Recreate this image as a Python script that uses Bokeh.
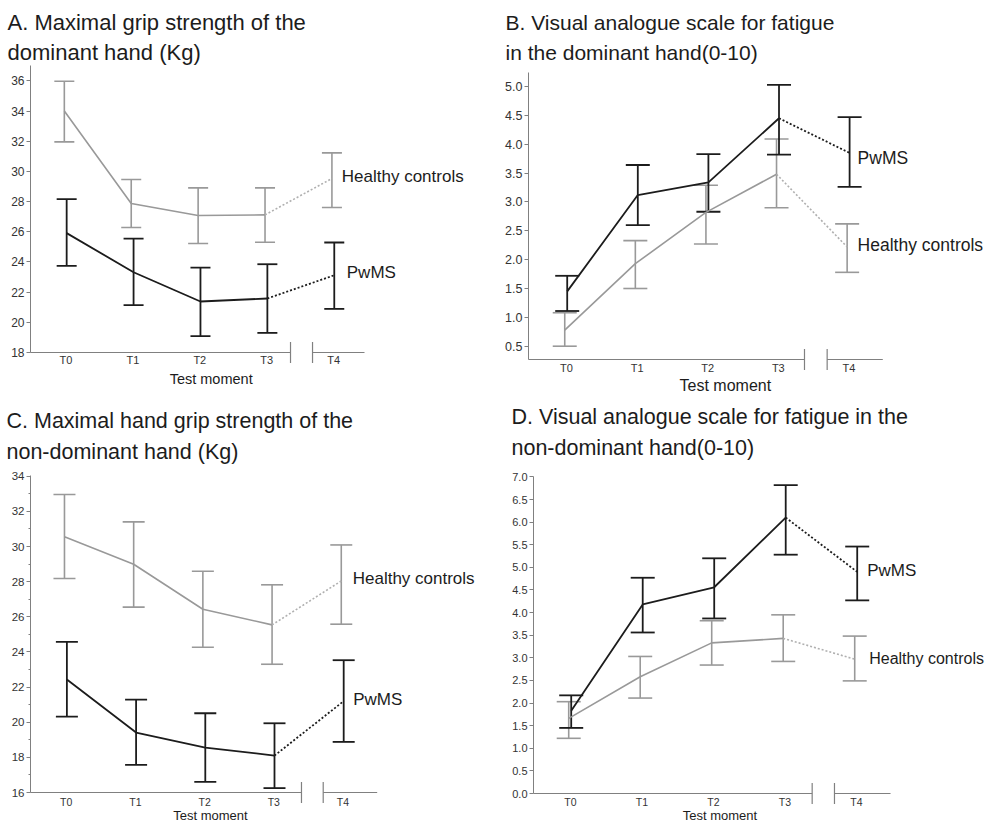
import numpy as np
from bokeh.plotting import figure
from bokeh.models import (Range1d, FixedTicker, Whisker, TeeHead, ColumnDataSource,
                          PrintfTickFormatter)
from bokeh.layouts import column, row
from bokeh.core.properties import value
from bokeh.embed import file_html
from bokeh.resources import INLINE

# ---------------- data ----------------
TIMES = ["T0", "T1", "T2", "T3", "T4"]
SERIES = ["PwMS", "Healthy controls"]
X_LABEL = "Test moment"

TITLE_A = ["A. Maximal grip strength of the", "dominant hand (Kg)"]
TITLE_B = ["B. Visual analogue scale for fatigue", "in the dominant hand(0-10)"]
TITLE_C = ["C. Maximal hand grip strength of the", "non-dominant hand (Kg)"]
TITLE_D = ["D. Visual analogue scale for fatigue in the", "non-dominant hand(0-10)"]

# A. grip strength dominant hand (Kg)
A_MS_MEAN = [25.91, 23.32, 21.38, 21.58, 23.12]
A_MS_UP = [28.16, 25.55, 23.63, 23.85, 25.29]
A_MS_LO = [23.74, 21.14, 19.08, 19.30, 20.89]
A_HC_MEAN = [34.00, 27.87, 27.08, 27.12, 29.53]
A_HC_UP = [35.98, 29.46, 28.91, 28.91, 31.23]
A_HC_LO = [31.96, 26.28, 25.22, 25.31, 27.61]

# B. VAS fatigue dominant hand
B_MS_MEAN = [1.45, 3.12, 3.34, 4.45, 3.85]
B_MS_UP = [1.72, 3.64, 3.83, 5.03, 4.47]
B_MS_LO = [1.11, 2.60, 2.83, 3.82, 3.26]
B_HC_MEAN = [0.78, 1.93, 2.82, 3.48, 2.22]
B_HC_UP = [1.08, 2.33, 3.29, 4.09, 2.62]
B_HC_LO = [0.50, 1.50, 2.27, 2.90, 1.78]

# C. grip strength non-dominant hand (Kg)
C_MS_MEAN = [22.43, 19.41, 18.56, 18.10, 21.20]
C_MS_UP = [24.57, 21.29, 20.51, 19.94, 23.53]
C_MS_LO = [20.32, 17.57, 16.61, 16.25, 18.88]
C_HC_MEAN = [30.55, 28.99, 26.43, 25.54, 28.04]
C_HC_UP = [32.96, 31.40, 28.59, 27.82, 30.09]
C_HC_LO = [28.18, 26.55, 24.27, 23.30, 25.58]

# D. VAS fatigue non-dominant hand
D_MS_MEAN = [1.83, 4.18, 4.56, 6.10, 4.90]
D_MS_UP = [2.17, 4.77, 5.20, 6.82, 5.46]
D_MS_LO = [1.45, 3.56, 3.87, 5.28, 4.27]
D_HC_MEAN = [1.66, 2.58, 3.33, 3.43, 2.97]
D_HC_UP = [2.03, 3.03, 3.82, 3.95, 3.48]
D_HC_LO = [1.22, 2.11, 2.84, 2.92, 2.49]

A_YTICKS = [18, 20, 22, 24, 26, 28, 30, 32, 34, 36]
B_YTICKS = [0.5, 1.0, 1.5, 2.0, 2.5, 3.0, 3.5, 4.0, 4.5, 5.0]
C_YTICKS = [16, 18, 20, 22, 24, 26, 28, 30, 32, 34]
D_YTICKS = [0.0, 0.5, 1.0, 1.5, 2.0, 2.5, 3.0, 3.5, 4.0, 4.5, 5.0, 5.5, 6.0, 6.5, 7.0]

# ---------------- style ----------------
FONT = "Liberation Sans"
DARK = "#1c1c1c"
GRAY = "#999999"
GRAY_DOT = "#b0b0b0"
AXIS = "#808080"
TICKLBL = "#333333"
BLACK_DX = 0.01
GRAY_DX = -0.025


def make_panel(title, ms, hc, yticks, yfmt, minor, g):
    W, H = g["W"], g["H"]
    sx, sy = g["sx"], g["sy"]
    xs = -g["x0px"] / sx
    xe = xs + W / sx
    ye = g["yref"] + g["yref_px"] / sy
    ys = ye - H / sy

    def px2x(px):
        return xs + px / sx

    def px2y(py):
        return ye - py / sy

    p = figure(width=W, height=H, x_range=Range1d(xs, xe), y_range=Range1d(ys, ye),
               output_backend="svg", toolbar_location=None, title=None,
               x_axis_location=None, min_border=0)
    p.min_border_left = p.min_border_right = p.min_border_top = p.min_border_bottom = 0
    p.outline_line_color = None
    p.grid.visible = False
    p.background_fill_color = "white"
    p.border_fill_color = "white"

    x_axis_val = px2y(g["xaxis_px"])
    y_top_val = px2y(g["ytop_px"])
    y_axis_x = px2x(g["yaxis_px"])

    # y axis (library axis, placed at the frame position of the original chart)
    yax = p.yaxis[0]
    yax.fixed_location = y_axis_x
    yax.bounds = (x_axis_val, y_top_val)
    yax.ticker = FixedTicker(ticks=yticks, minor_ticks=minor)
    yax.formatter = PrintfTickFormatter(format=yfmt)
    yax.axis_line_color = AXIS
    yax.major_tick_line_color = AXIS
    yax.minor_tick_line_color = AXIS
    yax.major_tick_in = 0
    yax.major_tick_out = 4
    yax.minor_tick_in = 0
    yax.minor_tick_out = 2
    yax.major_label_standoff = 2
    yax.major_label_text_font = FONT
    yax.major_label_text_font_size = g["yfs"]
    yax.major_label_text_color = TICKLBL

    # broken x axis line
    a1, a2, a3 = g["brk"]
    for lo_, hi_, lh, uh in [(y_axis_x, a1, None, TeeHead(size=21, line_color=AXIS, line_width=1.2)),
                             (a2, a3, TeeHead(size=21, line_color=AXIS, line_width=1.2), None)]:
        s = ColumnDataSource(dict(base=[x_axis_val], lower=[lo_], upper=[hi_]))
        p.add_layout(Whisker(base="base", lower="lower", upper="upper", source=s, dimension="width",
                             line_color=AXIS, line_width=1.2, lower_head=lh, upper_head=uh))

    x = np.arange(len(TIMES), dtype=float)
    # x tick labels and axis title
    p.text(x=x, y=[x_axis_val] * len(TIMES), text=TIMES, y_offset=g["tdy"],
           text_font=value(FONT), text_font_size=value(g["xfs"]), text_color=TICKLBL,
           text_align="center", text_baseline="middle")
    p.text(x=[g["xlab"]], y=[x_axis_val], text=[X_LABEL], y_offset=g["xlab_dy"],
           text_font=value(FONT), text_font_size=value(g["xlfs"]), text_color=DARK,
           text_align="center", text_baseline="middle")

    # series
    for (mean, up, lo), dx, col, dcol, lw in [(hc, GRAY_DX, GRAY, GRAY_DOT, 1.6),
                                               (ms, BLACK_DX, DARK, DARK, 1.8)]:
        xx = x + dx
        s = ColumnDataSource(dict(x=xx, up=up, lo=lo))
        p.add_layout(Whisker(base="x", upper="up", lower="lo", source=s, dimension="height",
                             line_color=col, line_width=lw,
                             upper_head=TeeHead(size=g["cap"], line_color=col, line_width=lw),
                             lower_head=TeeHead(size=g["cap"], line_color=col, line_width=lw)))
        p.line(xx[:4], mean[:4], line_color=col, line_width=lw)
        p.line(xx[3:], mean[3:], line_color=dcol, line_width=lw, line_dash="2 2")

    # series labels at T4
    xl = x[-1] + BLACK_DX
    p.text(x=[xl, xl], y=[ms[0][-1], hc[0][-1]], text=SERIES,
           x_offset=g["lx"], y_offset=g["ly"], text_font_size=g["lfs"],
           text_font=value(FONT), text_color=DARK, text_align="left", text_baseline="middle")

    # two-line panel title
    tx = px2x(g["tx"])
    p.text(x=[tx, tx], y=[px2y(g["tc"][0]), px2y(g["tc"][1])], text=title,
           text_font=value(FONT), text_font_size=value(g["tfs"]), text_color=DARK,
           text_align="left", text_baseline="middle")
    return p


GA = dict(W=488, H=398, x0px=65.5, sx=66.9, yref=18, yref_px=352, sy=15.09,
          xaxis_px=352, ytop_px=65, yaxis_px=30, brk=(3.356, 3.685, 4.462), cap=20,
          yfs="12px", xfs="11px", tdy=7.5, xlab=2.17, xlab_dy=26.3, xlfs="14.5px",
          lx=[12.5, 7.5], ly=[-3, -2], lfs=["17px", "17px"], tx=7, tc=(22, 52), tfs="22px")
GB = dict(W=507, H=398, x0px=78, sx=70.6, yref=0.5, yref_px=345.7, sy=57.7,
          xaxis_px=359, ytop_px=72, yaxis_px=40, brk=(3.371, 3.692, 4.48), cap=24,
          yfs="12.5px", xfs="11px", tdy=8.3, xlab=2.25, xlab_dy=26, xlfs="16px",
          lx=[8, 8], ly=[5, -2], lfs=["17.5px", "17.5px"], tx=17, tc=(22, 52), tfs="21px")
GC = dict(W=488, H=426, x0px=65.7, sx=69.2, yref=16, yref_px=394, sy=17.57,
          xaxis_px=394, ytop_px=77, yaxis_px=30, brk=(3.40, 3.714, 4.494), cap=22,
          yfs="11.5px", xfs="10.5px", tdy=9.5, xlab=2.085, xlab_dy=23, xlfs="13px",
          lx=[9.5, 9], ly=[-2, -2], lfs=["17px", "17px"], tx=6, tc=(22, 53), tfs="21.5px")
GD = dict(W=507, H=426, x0px=82, sx=71.5, yref=0.0, yref_px=395, sy=45.23,
          xaxis_px=395, ytop_px=78, yaxis_px=45, brk=(3.38, 3.692, 4.476), cap=24,
          yfs="11px", xfs="10.5px", tdy=8.7, xlab=2.09, xlab_dy=22, xlfs="13px",
          lx=[10, 12], ly=[-1, -1], lfs=["17px", "16px"], tx=23, tc=(18, 49), tfs="21.5px")

pA = make_panel(TITLE_A, (A_MS_MEAN, A_MS_UP, A_MS_LO), (A_HC_MEAN, A_HC_UP, A_HC_LO),
                A_YTICKS, "%d", [], GA)
pB = make_panel(TITLE_B, (B_MS_MEAN, B_MS_UP, B_MS_LO), (B_HC_MEAN, B_HC_UP, B_HC_LO),
                B_YTICKS, "%.1f", [], GB)
pC = make_panel(TITLE_C, (C_MS_MEAN, C_MS_UP, C_MS_LO), (C_HC_MEAN, C_HC_UP, C_HC_LO),
                C_YTICKS, "%d", [v + 1 for v in C_YTICKS[:-1]], GC)
pD = make_panel(TITLE_D, (D_MS_MEAN, D_MS_UP, D_MS_LO), (D_HC_MEAN, D_HC_UP, D_HC_LO),
                D_YTICKS, "%.1f", [], GD)

layout = column(row(pA, pB), row(pC, pD))
open("out.html", "w").write(file_html(layout, INLINE))
